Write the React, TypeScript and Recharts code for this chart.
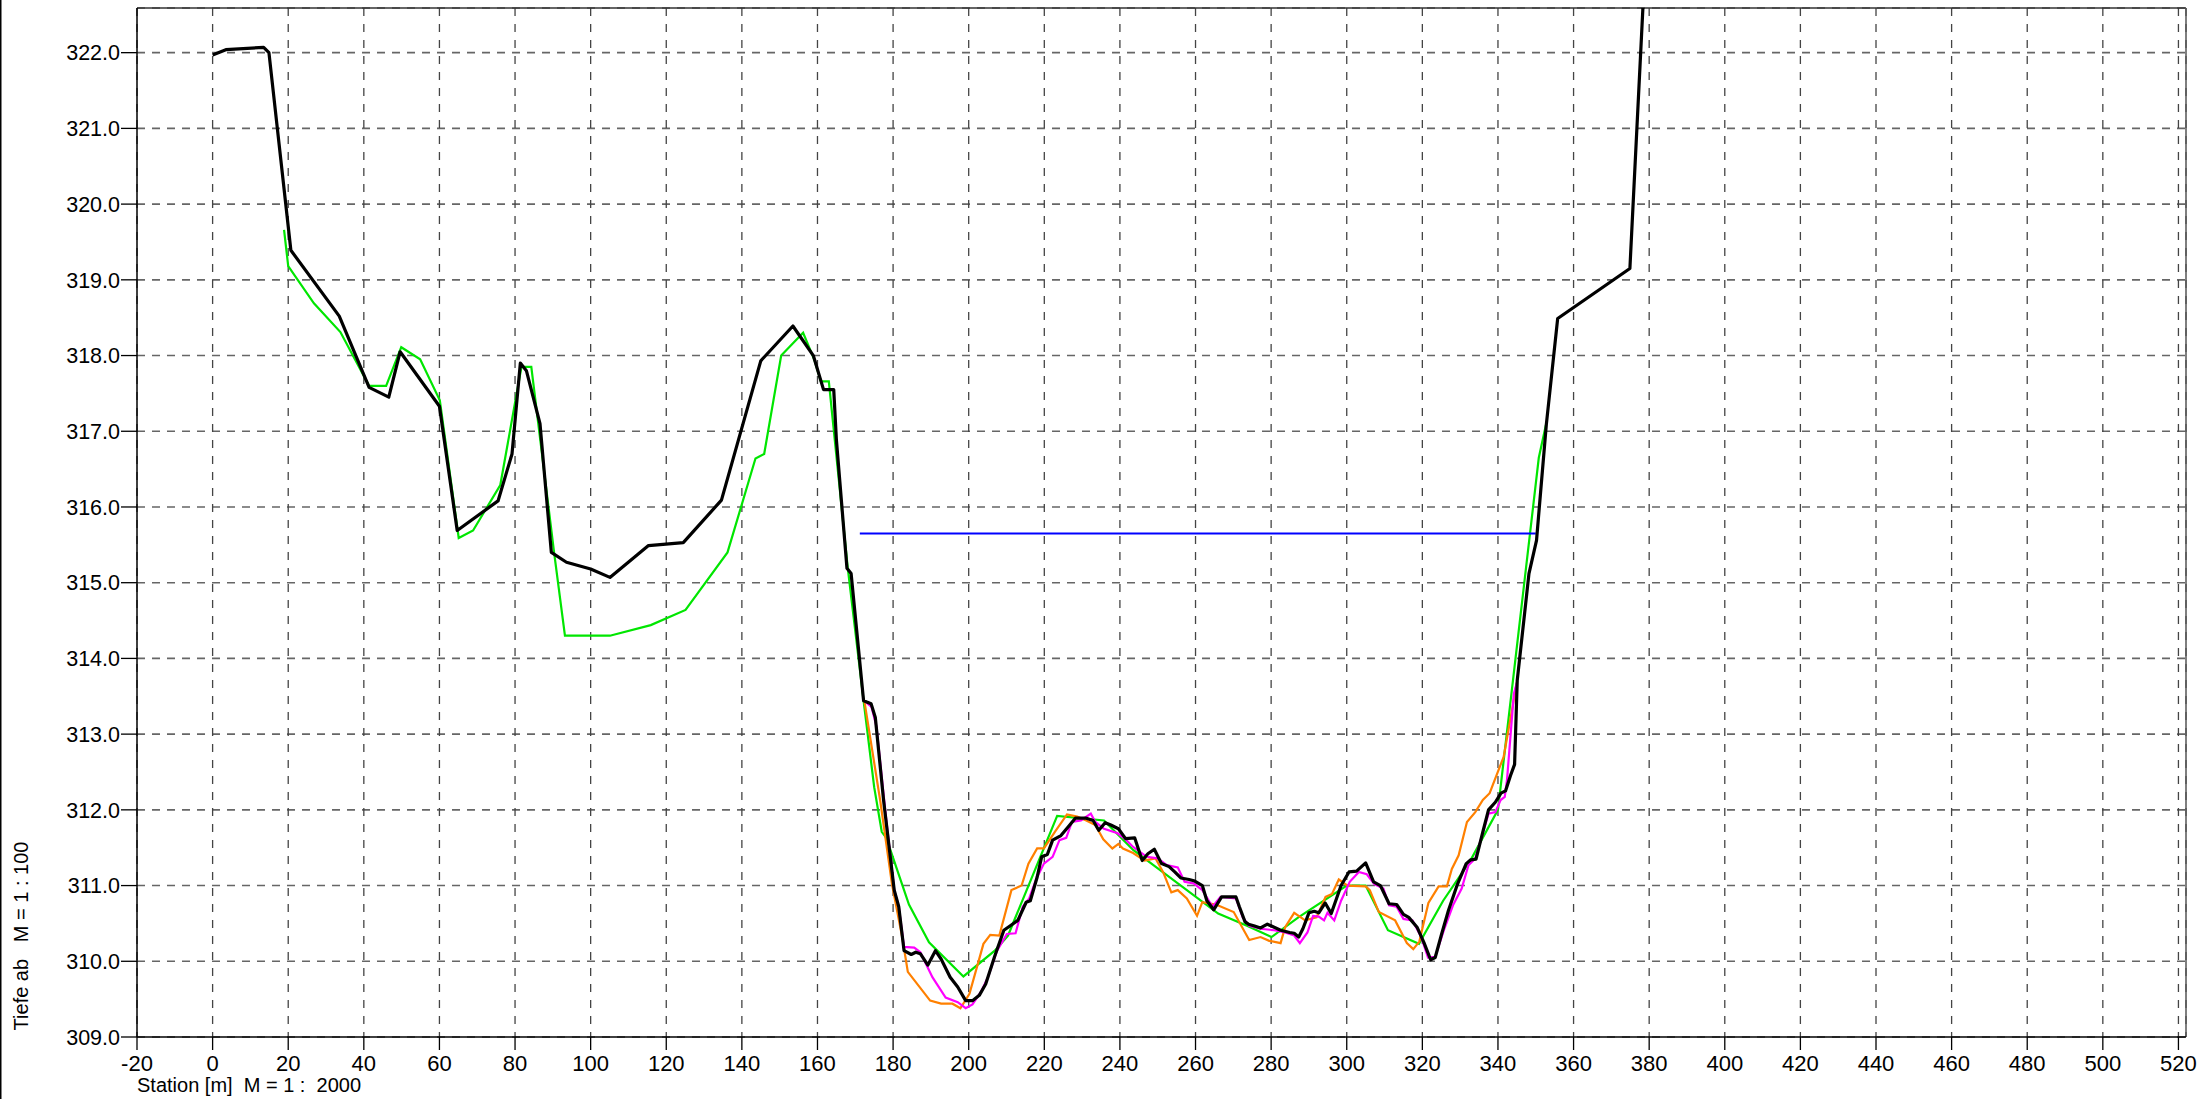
import React from 'react';
import { LineChart, Line, XAxis, YAxis, CartesianGrid, ReferenceLine } from 'recharts';

// ---------- data ----------
const xTicks = [-20, 0, 20, 40, 60, 80, 100, 120, 140, 160, 180, 200, 220, 240, 260, 280, 300, 320, 340, 360, 380, 400, 420, 440, 460, 480, 500, 520];
const yTicks = [309, 310, 311, 312, 313, 314, 315, 316, 317, 318, 319, 320, 321, 322];

// current terrain profile (black)
const terrain: [number, number][] = [
  [0, 321.97], [3.5, 322.04], [13.5, 322.07], [14.9, 322.0], [20.7, 319.39], [33.5, 318.52],
  [41.4, 317.58], [46.6, 317.45], [49.6, 318.05], [60.0, 317.33], [64.7, 315.69], [75.5, 316.08],
  [79.2, 316.7], [81.4, 317.9], [83.0, 317.8], [86.6, 317.1], [89.6, 315.4], [93.6, 315.27],
  [100.0, 315.18], [105.1, 315.07], [115.3, 315.49], [124.5, 315.53], [134.6, 316.09], [145.0, 317.93],
  [153.5, 318.39], [158.9, 318.0], [161.6, 317.55], [164.3, 317.55], [165.0, 316.89], [167.8, 315.19],
  [168.9, 315.12], [172.2, 313.44], [174.2, 313.4], [175.3, 313.22], [177.5, 312.12], [180.3, 310.94],
  [181.5, 310.72], [182.9, 310.14], [184.8, 310.09], [186.0, 310.12], [187.2, 310.1], [189.2, 309.95],
  [191.2, 310.14], [192.7, 310.03], [195.1, 309.79], [197.1, 309.66], [199.2, 309.48], [201.0, 309.48],
  [202.8, 309.55], [204.5, 309.7], [206.9, 310.07], [209.3, 310.41], [211.0, 310.47], [213.0, 310.54],
  [215.2, 310.78], [216.3, 310.8], [218.1, 311.11], [219.3, 311.38], [220.8, 311.41], [222.2, 311.6],
  [224.4, 311.66], [226.4, 311.78], [228.2, 311.89], [231.1, 311.89], [232.9, 311.86], [234.4, 311.73],
  [236.1, 311.83], [237.6, 311.8], [239.6, 311.75], [241.5, 311.62], [243.9, 311.63], [245.9, 311.33],
  [247.4, 311.42], [249.1, 311.48], [251.0, 311.29], [253.0, 311.25], [254.5, 311.18], [256.1, 311.1],
  [258.3, 311.08], [259.8, 311.06], [261.8, 311.0], [263.0, 310.8], [264.8, 310.68], [266.9, 310.85],
  [270.7, 310.85], [271.6, 310.72], [273.1, 310.52], [274.0, 310.49], [275.4, 310.47], [277.2, 310.44],
  [279.0, 310.49], [280.8, 310.45], [282.5, 310.41], [284.9, 310.38], [286.1, 310.37], [287.3, 310.32],
  [288.4, 310.43], [290.0, 310.64], [291.4, 310.66], [292.6, 310.64], [294.3, 310.77], [295.9, 310.63],
  [297.3, 310.83], [298.5, 311.0], [300.6, 311.18], [302.6, 311.19], [305.0, 311.3], [307.1, 311.05],
  [308.9, 311.0], [311.2, 310.76], [313.2, 310.75], [315.0, 310.62], [316.4, 310.58], [318.6, 310.45],
  [320.4, 310.25], [322.2, 310.02], [323.4, 310.05], [325.1, 310.36], [326.9, 310.67], [329.3, 311.02],
  [331.6, 311.29], [332.8, 311.34], [334.2, 311.35], [336.1, 311.73], [337.5, 312.0], [339.3, 312.1],
  [340.8, 312.22], [342.0, 312.25], [343.3, 312.45], [344.4, 312.6], [345.1, 313.71], [348.2, 315.12],
  [350.2, 315.56], [352.8, 317.09], [355.8, 318.49], [374.9, 319.15], [378.6, 322.85],
];

// older survey (green)
const survey1: [number, number][] = [
  [18.9, 319.66], [20.0, 319.18], [26.8, 318.69], [33.8, 318.31], [41.4, 317.6], [45.9, 317.6],
  [49.9, 318.11], [54.9, 317.95], [60.1, 317.41], [65.1, 315.59], [68.9, 315.69], [76.1, 316.29],
  [81.7, 317.85], [84.3, 317.85], [86.0, 317.16], [90.3, 315.41], [93.2, 314.3], [105.1, 314.3],
  [115.9, 314.44], [125.1, 314.64], [136.2, 315.4], [143.6, 316.64], [145.9, 316.7], [150.4, 318.0],
  [156.2, 318.3], [159.2, 317.94], [160.9, 317.66], [163.0, 317.66], [168.0, 315.2], [172.2, 313.44],
  [175.0, 312.3], [177.0, 311.71], [178.2, 311.63], [184.2, 310.75], [189.5, 310.25], [198.6, 309.8],
  [206.9, 310.14], [210.4, 310.34], [223.4, 311.92], [235.8, 311.86], [243.5, 311.47], [249.4, 311.25],
  [266.0, 310.63], [273.6, 310.47], [280.1, 310.32], [287.2, 310.58], [300.0, 311.0], [305.0, 311.0],
  [310.9, 310.41], [319.1, 310.23], [325.5, 310.8], [332.7, 311.33], [340.0, 312.0], [350.8, 316.65],
  [352.8, 317.11],
];

// survey (orange)
const survey2: [number, number][] = [
  [172.4, 313.44], [176.6, 312.12], [179.7, 311.02], [182.4, 310.32], [183.9, 309.86], [189.8, 309.48],
  [192.7, 309.44], [195.7, 309.44], [197.8, 309.38], [200.2, 309.57], [203.9, 310.23], [205.7, 310.35],
  [208.1, 310.34], [211.3, 310.94], [214.0, 311.0], [215.8, 311.29], [218.1, 311.49], [219.9, 311.49],
  [222.8, 311.71], [226.0, 311.94], [228.7, 311.91], [231.1, 311.86], [233.5, 311.8], [235.6, 311.61],
  [238.0, 311.49], [239.6, 311.55], [240.8, 311.49], [243.5, 311.43], [246.5, 311.33], [249.4, 311.36],
  [251.4, 311.18], [253.6, 310.91], [255.3, 310.94], [257.7, 310.83], [260.4, 310.6], [261.8, 310.78],
  [265.4, 310.75], [270.1, 310.65], [274.2, 310.28], [277.2, 310.32], [279.5, 310.27], [282.5, 310.24],
  [283.7, 310.45], [286.1, 310.64], [289.0, 310.54], [292.0, 310.58], [294.4, 310.85], [296.1, 310.89],
  [297.9, 311.08], [300.2, 311.0], [305.0, 310.99], [306.1, 310.94], [308.5, 310.65], [312.8, 310.54],
  [315.9, 310.24], [317.6, 310.16], [319.2, 310.26], [321.6, 310.77], [324.3, 310.99], [326.5, 310.99],
  [327.8, 311.22], [329.6, 311.4], [331.8, 311.84], [334.0, 311.97], [336.0, 312.13], [337.8, 312.22],
  [341.5, 312.7], [345.0, 313.68],
];

// survey (magenta)
const survey3: [number, number][] = [
  [172.4, 313.44], [174.3, 313.36], [175.6, 313.1], [177.8, 312.05], [180.3, 310.94], [181.5, 310.72],
  [182.9, 310.19], [185.6, 310.18], [187.2, 310.12], [190.4, 309.79], [193.9, 309.52], [197.1, 309.46],
  [199.2, 309.38], [201.0, 309.43], [203.4, 309.61], [205.1, 309.79], [207.5, 310.14], [210.1, 310.36],
  [212.4, 310.37], [214.3, 310.72], [216.0, 310.83], [217.9, 311.09], [219.9, 311.29], [222.2, 311.38],
  [224.0, 311.6], [225.8, 311.63], [227.3, 311.84], [229.7, 311.86], [232.3, 311.95], [233.5, 311.84],
  [235.8, 311.75], [239.4, 311.69], [241.7, 311.6], [243.5, 311.51], [247.1, 311.38], [250.0, 311.36],
  [252.4, 311.27], [255.3, 311.24], [257.1, 311.05], [259.5, 311.03], [261.8, 310.94], [264.5, 310.72],
  [266.6, 310.85], [270.7, 310.83], [272.5, 310.58], [274.2, 310.47], [277.2, 310.43], [280.8, 310.41],
  [283.7, 310.38], [286.1, 310.34], [287.6, 310.24], [289.6, 310.38], [291.1, 310.6], [292.6, 310.59],
  [294.0, 310.54], [294.9, 310.64], [296.7, 310.54], [298.5, 310.8], [300.8, 311.05], [303.2, 311.18],
  [305.3, 311.15], [307.3, 311.02], [309.7, 310.96], [311.2, 310.74], [313.2, 310.72], [315.0, 310.56],
  [317.4, 310.54], [319.7, 310.32], [321.5, 310.05], [323.4, 310.06], [325.7, 310.41], [328.1, 310.74],
  [330.4, 310.96], [332.2, 311.27], [334.0, 311.36], [335.8, 311.66], [337.5, 311.95], [339.3, 311.97],
  [340.7, 312.13], [341.8, 312.17], [342.4, 312.4], [344.2, 313.53], [345.0, 313.68],
];

// water level (blue)
const waterLevel: [number, number][] = [
  [171.2, 315.65], [350.0, 315.65],
];

const xDomain: [number, number] = [-20, 522];
const yDomain: [number, number] = [309, 322.59];

// ---------- helpers ----------
const rows = (pts: [number, number][]) => pts.map(([x, y]) => ({ x, y }));
const FONT = '"Liberation Sans", Arial, Helvetica, sans-serif';

const XTick = (props: any) => (
  <text x={props.x} y={props.y} dy={21} textAnchor="middle" fontSize={22} fontFamily={FONT} fill="#000">
    {props.payload.value}
  </text>
);

const YTick = (props: any) => (
  <text x={props.x} y={props.y} dy="0.36em" textAnchor="end" fontSize={21.5} fontFamily={FONT} fill="#000">
    {Number(props.payload.value).toFixed(1)}
  </text>
);

const W = 2210;
const H = 1099;

export default function App() {
  return (
    <div style={{ position: 'absolute', left: 0, top: 0, width: W, height: H, background: '#fff', overflow: 'hidden' }}>
      <LineChart width={W} height={H} margin={{ top: 8, right: 24, bottom: 0, left: 0 }}>
        <CartesianGrid horizontal vertical={false} stroke="#666" strokeWidth={1.6} strokeDasharray="8 7" />
        <CartesianGrid horizontal={false} vertical stroke="#444" strokeWidth={1.3} strokeDasharray="8 8" />
        <XAxis
          dataKey="x"
          type="number"
          domain={xDomain}
          ticks={xTicks}
          interval={0}
          allowDataOverflow
          height={62}
          tickSize={13}
          tickMargin={0}
          tick={<XTick />}
          axisLine={{ stroke: '#000', strokeWidth: 1.5 }}
          tickLine={{ stroke: '#000', strokeWidth: 1.3 }}
        />
        <YAxis
          dataKey="y"
          type="number"
          domain={yDomain}
          ticks={yTicks}
          interval={0}
          allowDataOverflow
          width={137}
          tickSize={16}
          tickMargin={1}
          tick={<YTick />}
          axisLine={{ stroke: '#000', strokeWidth: 1.5 }}
          tickLine={{ stroke: '#000', strokeWidth: 1.3 }}
        />
        <ReferenceLine y={yDomain[1]} stroke="#333" strokeWidth={1.5} />
        <ReferenceLine x={xDomain[1]} stroke="#555" strokeWidth={1.5} />
        <Line data={rows(survey1)} dataKey="y" stroke="#00e600" strokeWidth={2.2} dot={false} activeDot={false} isAnimationActive={false} />
        <Line data={rows(survey2)} dataKey="y" stroke="#ff8000" strokeWidth={2.2} dot={false} activeDot={false} isAnimationActive={false} />
        <Line data={rows(survey3)} dataKey="y" stroke="#ff00ff" strokeWidth={2.2} dot={false} activeDot={false} isAnimationActive={false} />
        <Line data={rows(waterLevel)} dataKey="y" stroke="#0000ff" strokeWidth={1.8} dot={false} activeDot={false} isAnimationActive={false} />
        <Line data={rows(terrain)} dataKey="y" stroke="#000" strokeWidth={3.2} strokeLinejoin="round" dot={false} activeDot={false} isAnimationActive={false} />
      </LineChart>
      <svg width={W} height={H} style={{ position: 'absolute', left: 0, top: 0, pointerEvents: 'none' }}>
        <line x1={0.75} y1={0} x2={0.75} y2={H} stroke="#000" strokeWidth={1.5} />
        <text
          x={28}
          y={936}
          transform="rotate(-90 28 936)"
          textAnchor="middle"
          fontSize={20}
          fontFamily={FONT}
          fill="#000"
          style={{ whiteSpace: 'pre' }}
        >
          {'Tiefe ab   M = 1 : 100'}
        </text>
        <text x={137} y={1091.5} fontSize={20} fontFamily={FONT} fill="#000" style={{ whiteSpace: 'pre' }}>
          {'Station [m]  M = 1 :  2000'}
        </text>
      </svg>
    </div>
  );
}
